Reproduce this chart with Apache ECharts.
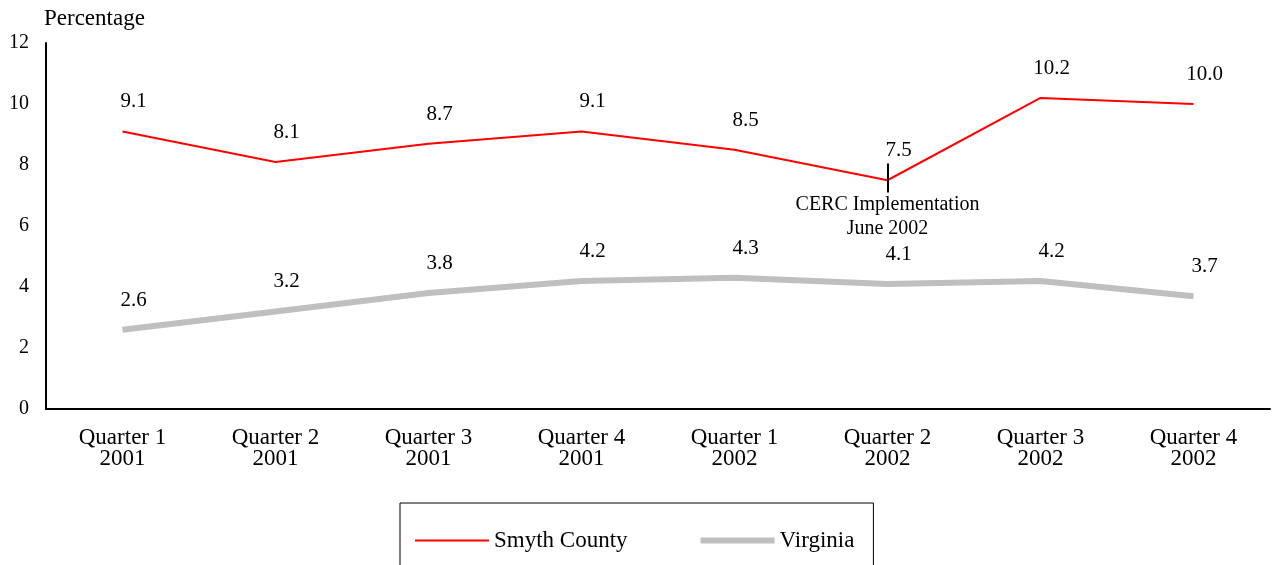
<!DOCTYPE html>
<html>
<head>
<meta charset="utf-8">
<script src="https://cdn.jsdelivr.net/npm/echarts@6/dist/echarts.min.js"></script>
<style>
  html, body { margin: 0; padding: 0; background: #fff; }
  #chart { width: 1274px; height: 565px; }
</style>
</head>
<body>
<div id="chart"></div>
<script>
var quarters = ['Quarter 1\n2001', 'Quarter 2\n2001', 'Quarter 3\n2001', 'Quarter 4\n2001',
                'Quarter 1\n2002', 'Quarter 2\n2002', 'Quarter 3\n2002', 'Quarter 4\n2002'];
var smyth = [9.1, 8.1, 8.7, 9.1, 8.5, 7.5, 10.2, 10.0];
var virginia = [2.6, 3.2, 3.8, 4.2, 4.3, 4.1, 4.2, 3.7];

var font = 'Liberation Serif, Times New Roman, serif';

var myChart = echarts.init(document.getElementById('chart'));

var valueLabel = {
    show: true,
    position: 'top',
    distance: 19,
    offset: [11, 0],
    fontFamily: font,
    fontSize: 21,
    color: '#000',
    formatter: function (p) { return p.value.toFixed(1); }
};

var option = {
    animation: false,
    textStyle: { fontFamily: font },
    grid: { left: 46, right: 4, top: 43, bottom: 156 },
    legend: {
        left: 400,
        top: 503,
        orient: 'horizontal',
        borderColor: '#000',
        borderWidth: 1,
        padding: [26, 19, 30, 14],
        itemWidth: 74,
        itemHeight: 14,
        itemGap: 70,
        itemStyle: { opacity: 0 },
        lineStyle: { width: 'inherit' },
        textStyle: { fontFamily: font, fontSize: 23, color: '#000' },
        data: ['Smyth County', 'Virginia']
    },
    xAxis: {
        type: 'category',
        data: quarters,
        axisLine: { lineStyle: { color: '#000', width: 2 } },
        axisTick: { show: false },
        axisLabel: { color: '#000', fontFamily: font, fontSize: 23, lineHeight: 21, margin: 18 }
    },
    yAxis: {
        type: 'value',
        min: 0,
        max: 12,
        interval: 2,
        name: 'Percentage',
        nameLocation: 'end',
        nameGap: 13,
        nameTextStyle: { color: '#000', fontFamily: font, fontSize: 23, align: 'left', padding: [0, 0, 0, -2] },
        axisLine: { show: true, lineStyle: { color: '#000', width: 2 } },
        axisTick: { show: false },
        splitLine: { show: false },
        axisLabel: { color: '#000', fontFamily: font, fontSize: 20, margin: 17 }
    },
    series: [
        {
            name: 'Smyth County',
            type: 'line',
            data: smyth,
            symbol: 'circle',
            symbolSize: 0,
            lineStyle: { color: '#ff0000', width: 2 },
            itemStyle: { color: '#ff0000' },
            label: valueLabel,
            markLine: {
                silent: true,
                symbol: 'none',
                lineStyle: { color: '#000', width: 2, type: 'solid' },
                label: {
                    show: true,
                    position: 'end',
                    distance: 0,
                    fontFamily: font,
                    fontSize: 20,
                    lineHeight: 24,
                    color: '#000',
                    formatter: 'CERC Implementation\nJune 2002'
                },
                data: [[{ coord: [5, 8.05] }, { coord: [5, 7.1] }]]
            }
        },
        {
            name: 'Virginia',
            type: 'line',
            data: virginia,
            symbol: 'circle',
            symbolSize: 0,
            lineStyle: { color: '#bfbfbf', width: 6 },
            itemStyle: { color: '#bfbfbf' },
            label: valueLabel
        }
    ]
};

myChart.setOption(option);
</script>
</body>
</html>
